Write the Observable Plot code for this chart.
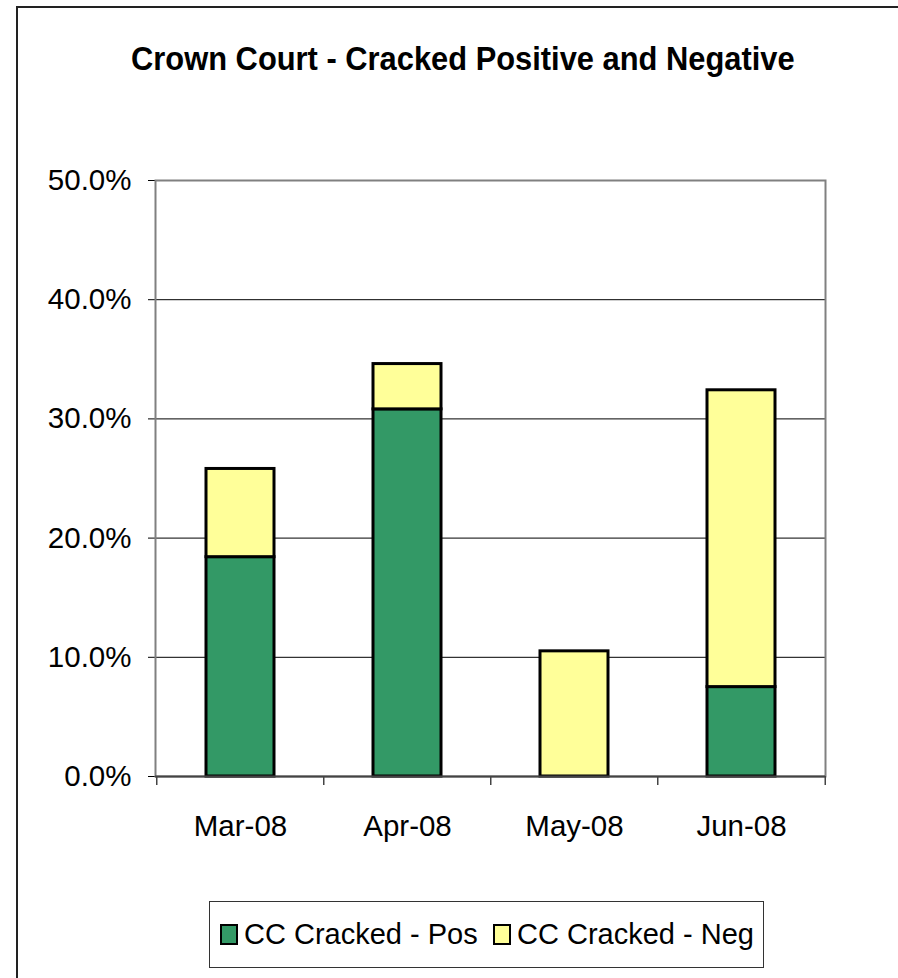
<!DOCTYPE html>
<html>
<head>
<meta charset="utf-8">
<script src="https://cdn.jsdelivr.net/npm/d3@7"></script>
<script src="https://cdn.jsdelivr.net/npm/@observablehq/plot@0.6"></script>
<style>
  body { margin: 0; background: #fff; }
  #wrap { position: relative; width: 898px; height: 978px; overflow: hidden; background: #fff; font-family: "Liberation Sans", Arial, sans-serif; }
  #border { position: absolute; left: 16px; top: 6px; width: 1200px; height: 1200px; border-left: 2px solid #222; border-top: 2px solid #222; }
  #title { position: absolute; left: 0; top: 42px; width: 925px; text-align: center; font-weight: bold; font-size: 33px; line-height: 33px; color: #000; }
  #title span { display: inline-block; transform: scaleX(0.935); transform-origin: center; }
  #chart { position: absolute; left: 0; top: 0; }
  #legend { position: absolute; left: 209px; top: 901px; width: 553px; height: 65px; border: 1.5px solid #333; font-size: 29px; }
  .item { position: absolute; top: 0; height: 65px; display: flex; align-items: center; white-space: nowrap; }
  .sw { width: 14px; height: 17px; border: 2px solid #000; margin-right: 6px; flex: none; }
  .item span { display: inline-block; }
</style>
</head>
<body>
<div id="wrap">
  <div id="border"></div>
  <div id="title"><span>Crown Court - Cracked Positive and Negative</span></div>
  <div id="chart"></div>
  <div id="legend"></div>
</div>
<script>
const months = ["Mar-08", "Apr-08", "May-08", "Jun-08"];
const seriesNames = ["CC Cracked - Pos", "CC Cracked - Neg"];
const posValues = [0.184, 0.308, 0.0, 0.075];
const negValues = [0.074, 0.038, 0.105, 0.249];
const seriesColors = ["#339966", "#FFFF99"];
const gridValues = [0.1, 0.2, 0.3, 0.4];

const rows = [];
months.forEach((m, i) => {
  rows.push({month: m, series: seriesNames[0], value: posValues[i]});
  rows.push({month: m, series: seriesNames[1], value: negValues[i]});
});

const W = 898, H = 880, mL = 155, mR = 73, mT = 180, mB = 104;
const step = (W - mL - mR) / months.length;

const plot = Plot.plot({
  width: W,
  height: H,
  marginLeft: mL,
  marginRight: mR,
  marginTop: mT,
  marginBottom: mB,
  style: {fontSize: "29.5px", fontFamily: "'Liberation Sans', Arial, sans-serif", color: "#000", background: "transparent", overflow: "visible"},
  x: {domain: months, paddingInner: 0.595, paddingOuter: 0.2975, tickSize: 0, tickPadding: 39, label: null},
  y: {domain: [0, 0.5], ticks: 5, tickFormat: d3.format(".1%"), tickSize: 7, tickPadding: 17, label: null},
  color: {domain: seriesNames, range: seriesColors},
  marks: [
    Plot.ruleY(gridValues, {y: d => d, stroke: "#000", strokeWidth: 1}),
    Plot.frame({stroke: "#808080", strokeWidth: 2}),
    Plot.barY(rows, {x: "month", y: "value", fill: "series", stroke: "#000", strokeWidth: 3}),
    Plot.ruleY([0], {stroke: "#444", strokeWidth: 2}),
    Plot.ruleX(months, {x: d => d, y1: 0, y2: 0, insetBottom: -9, dx: -step / 2, stroke: "#444", strokeWidth: 1.5}),
    Plot.ruleX(months.slice(-1), {x: d => d, y1: 0, y2: 0, insetBottom: -9, dx: step / 2, stroke: "#444", strokeWidth: 1.5})
  ]
});
document.getElementById("chart").appendChild(plot);

const legend = document.getElementById("legend");
const itemLeft = [10, 283];
seriesNames.forEach((name, i) => {
  const item = document.createElement("div");
  item.className = "item";
  item.style.left = itemLeft[i] + "px";
  const sw = document.createElement("div");
  sw.className = "sw";
  sw.style.background = seriesColors[i];
  const label = document.createElement("span");
  label.textContent = name;
  item.appendChild(sw);
  item.appendChild(label);
  legend.appendChild(item);
});
</script>
</body>
</html>
